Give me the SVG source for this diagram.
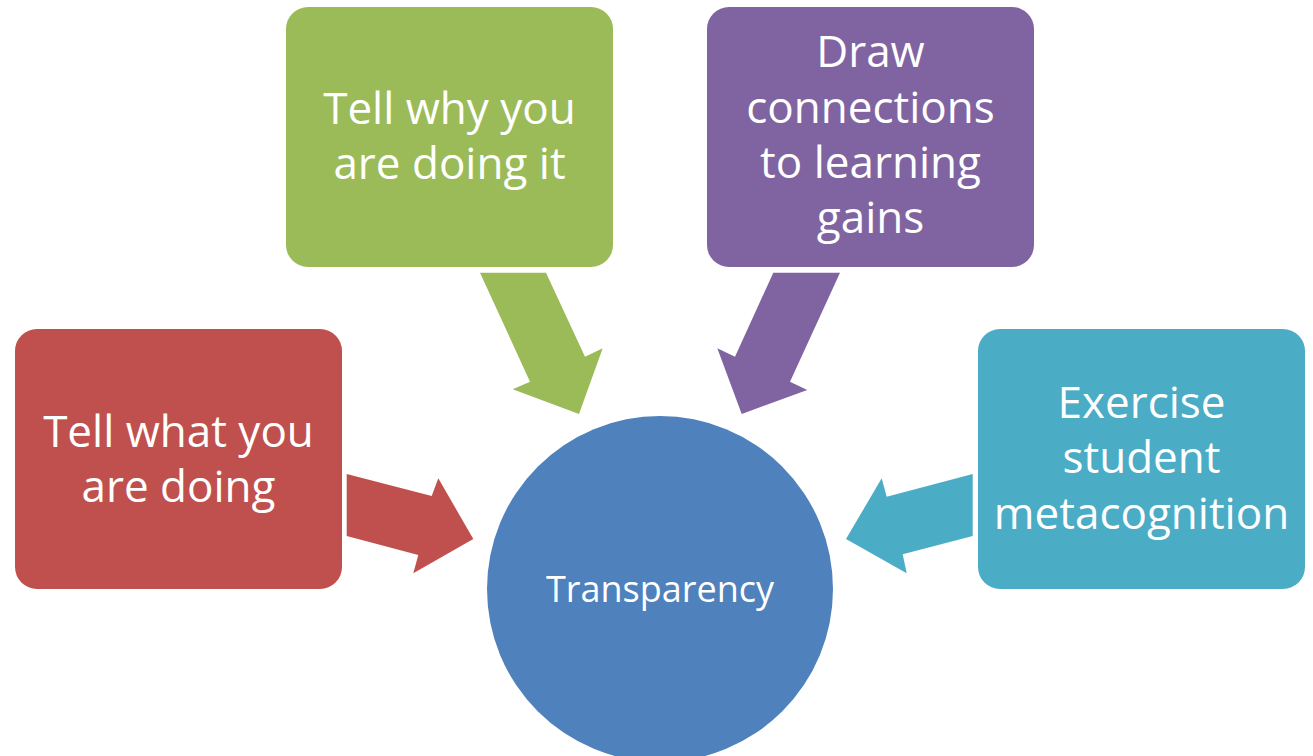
<svg xmlns="http://www.w3.org/2000/svg" width="1313" height="756" viewBox="0 0 1313 756">
<style>
.lbl{font-family:"Open Sans","Noto Sans","Liberation Sans",sans-serif;fill:#ffffff;text-anchor:middle;font-size:44px}
.ctr{font-size:36px}
</style>
<rect width="1313" height="756" fill="#ffffff"/>
<g id="connectors">
<polygon fill="#C0504D" points="346.7,474 431.7,496 438.3,478.3 473.3,539 413.3,573.3 418.3,555 346.7,536"/>
<polygon fill="#9BBB59" points="480,272.7 546,272.7 585,356.7 602.7,348.3 579,414 512.7,389.3 530,381.7"/>
<polygon fill="#8064A2" points="773.3,272.7 840,272.7 790,381.7 807.3,390 741.7,414 717.3,348.3 735,356.7"/>
<polygon fill="#4BACC6" points="972.7,474 886.7,496.7 881.7,478.3 846,539 906.7,573.3 902.7,554.3 972.7,536"/>
</g>
<g id="center">
<circle cx="660" cy="589" r="173" fill="#4F81BD"/>
<text class="lbl ctr" x="660" y="602">Transparency</text>
</g>
<g id="box-red">
<rect x="15" y="329" width="327" height="260" rx="22" fill="#C0504D"/>
<text class="lbl" x="178.5" y="447">Tell what you</text>
<text class="lbl" x="178.5" y="502">are doing</text>
</g>
<g id="box-green">
<rect x="286" y="7" width="327" height="260" rx="22" fill="#9BBB59"/>
<text class="lbl" x="449.5" y="124">Tell why you</text>
<text class="lbl" x="449.5" y="179">are doing it</text>
</g>
<g id="box-purple">
<rect x="707" y="7" width="327" height="260" rx="22" fill="#8064A2"/>
<text class="lbl" x="870.5" y="67">Draw</text>
<text class="lbl" x="870.5" y="123">connections</text>
<text class="lbl" x="870.5" y="178">to learning</text>
<text class="lbl" x="870.5" y="233">gains</text>
</g>
<g id="box-teal">
<rect x="978" y="329" width="327" height="260" rx="22" fill="#4BACC6"/>
<text class="lbl" x="1141.5" y="418">Exercise</text>
<text class="lbl" x="1141.5" y="473">student</text>
<text class="lbl" x="1141.5" y="529">metacognition</text>
</g>
</svg>
